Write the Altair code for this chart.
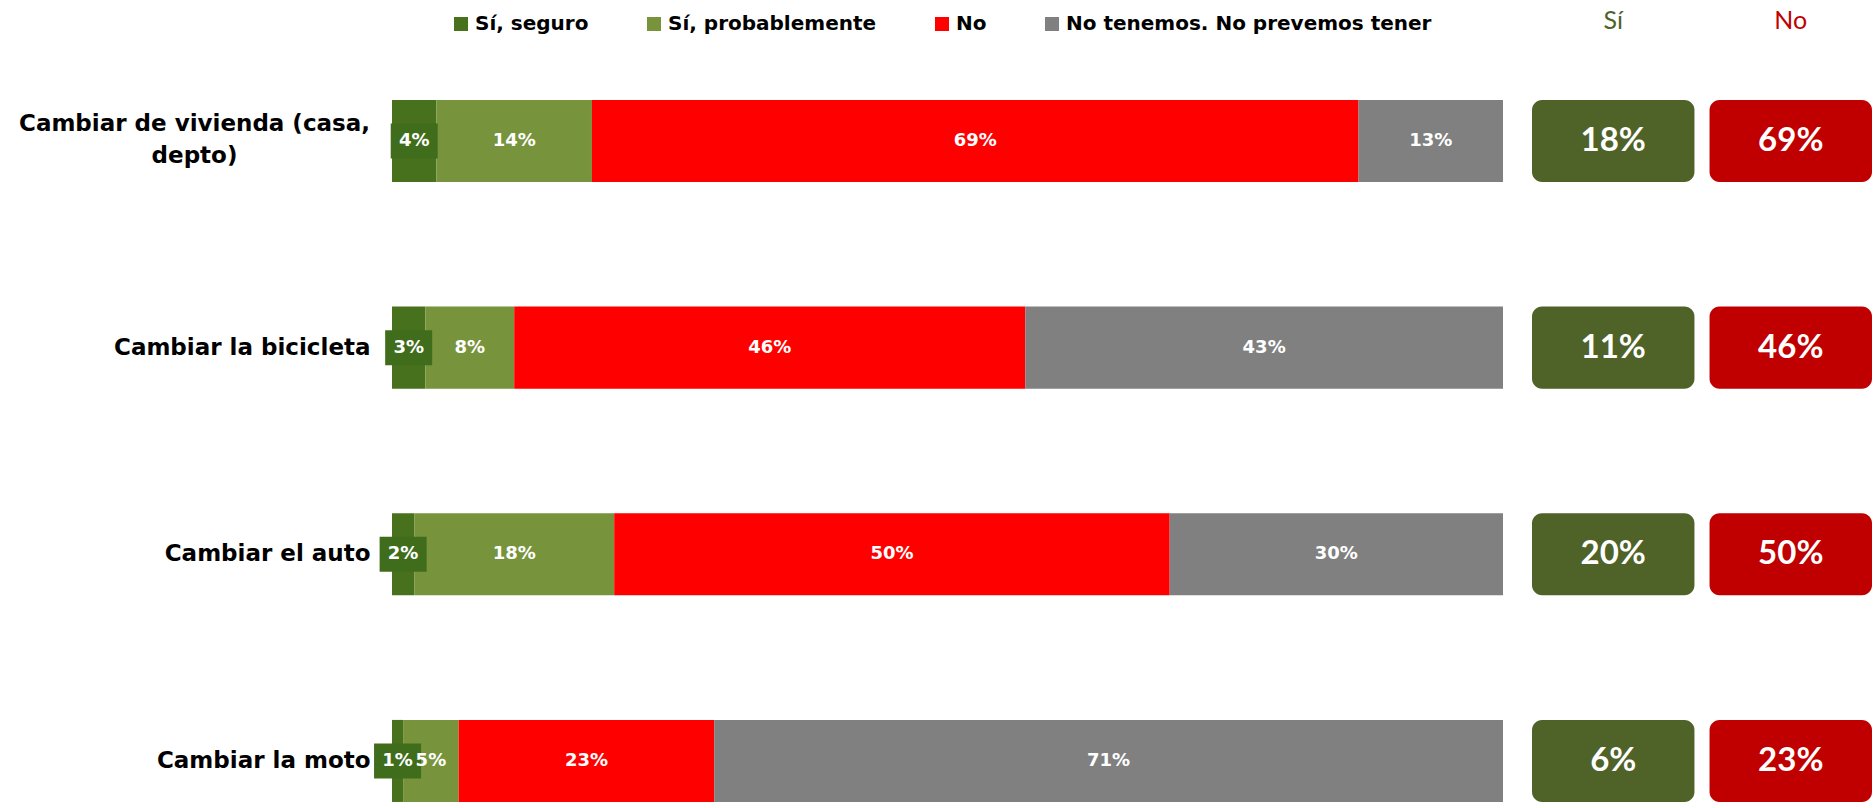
import altair as alt
import pandas as pd

# Survey items (rows) and the answer categories (stacked segments)
categories = [
    "Cambiar de vivienda (casa,\ndepto)",
    "Cambiar la bicicleta",
    "Cambiar el auto",
    "Cambiar la moto",
]
responses = ["Sí, seguro", "Sí, probablemente", "No", "No tenemos. No prevemos tener"]

# Percentages per row, one list per answer
si_seguro = [4, 3, 2, 1]
si_probablemente = [14, 8, 18, 5]
no = [69, 46, 50, 23]
no_tenemos = [13, 43, 30, 71]

response_colors = ["#48711E", "#77933C", "#FF0000", "#808080"]
summary_columns = ["Sí", "No"]
summary_colors = ["#4F6228", "#C00000"]

# Long table for the stacked bars
series = [si_seguro, si_probablemente, no, no_tenemos]
rows = []
for ci, cat in enumerate(categories):
    start = 0
    for ri, resp in enumerate(responses):
        v = series[ri][ci]
        rows.append({
            "category": cat,
            "response": resp,
            "order": ri,
            "value": v,
            "mid": start + v / 2,
        })
        start += v
bars_df = pd.DataFrame(rows)

# Summary boxes: total "Sí" (seguro + probablemente) and "No"
summary_rows = []
for ci, cat in enumerate(categories):
    summary_rows.append({"category": cat, "column": "Sí",
                         "value": si_seguro[ci] + si_probablemente[ci]})
    summary_rows.append({"category": cat, "column": "No", "value": no[ci]})
summary_df = pd.DataFrame(summary_rows)
header_df = pd.DataFrame({"column": summary_columns})

y_scale = alt.Scale(paddingInner=0.603, paddingOuter=0.2468, align=0.98)
PLOT_H = 804

# Two-line labels are centred as a block; single-line labels are right-aligned
multi = "length(split(datum.label, '\\n')) > 1"
y_enc = alt.Y(
    "category:N",
    sort=categories,
    scale=y_scale,
    title=None,
    axis=alt.Axis(
        labelExpr="split(datum.label, '\\n')",
        labelFont="DejaVu Sans",
        labelFontWeight="bold",
        labelFontSize=23,
        labelColor="#000000",
        labelLineHeight=32,
        labelPadding=alt.ExprRef(f"{multi} ? 198 : 22"),
        labelAlign=alt.ExprRef(f"{multi} ? 'center' : 'right'"),
        labelOffset=alt.ExprRef(f"{multi} ? -17 : 0"),
        labelLimit=600,
        domain=False,
        ticks=False,
    ),
)

base = alt.Chart(bars_df)

bars = base.mark_bar().encode(
    x=alt.X("value:Q", stack="zero", scale=alt.Scale(domain=[0, 100]), axis=None),
    y=y_enc,
    color=alt.Color(
        "response:N",
        scale=alt.Scale(domain=responses, range=response_colors),
        legend=alt.Legend(
            title=None,
            orient="none",
            direction="horizontal",
            legendX=59,
            legendY=14,
            symbolType="square",
            symbolSize=196,
            symbolStrokeWidth=0,
            labelFont="DejaVu Sans",
            labelFontWeight="bold",
            labelFontSize=20,
            labelColor="#000000",
            labelOffset=4,
            columnPadding=55,
            padding=0,
            labelLimit=600,
        ),
    ),
    order=alt.Order("order:Q"),
)

# Dark label background for the small "Sí, seguro" segment
seguro_box = base.transform_filter(alt.datum.order == 0).mark_point(
    shape="M-1.343,-1H1.343V1H-1.343Z",
    size=1225,
    filled=True,
    opacity=1,
    color="#406D1B",
).encode(x=alt.X("mid:Q"), y=alt.Y("category:N", sort=categories))

seg_text = base.transform_calculate(
    label="datum.value + '%'"
).mark_text(
    font="DejaVu Sans", fontWeight="bold", fontSize=18, color="white",
    align="center", baseline="middle",
).encode(
    x=alt.X("mid:Q"),
    y=alt.Y("category:N", sort=categories),
    text="label:N",
)

bar_chart = alt.layer(bars, seguro_box, seg_text).properties(width=1111, height=PLOT_H)

# Right-hand summary panel
x_sum = alt.X(
    "column:N",
    sort=summary_columns,
    scale=alt.Scale(paddingInner=0.085, paddingOuter=0),
    axis=None,
)
sum_color = alt.Color(
    "column:N",
    scale=alt.Scale(domain=summary_columns, range=summary_colors),
    legend=None,
)
sum_base = alt.Chart(summary_df)
boxes = sum_base.mark_bar(cornerRadius=10).encode(
    x=x_sum,
    y=alt.Y("category:N", sort=categories, scale=y_scale, axis=None),
    color=sum_color,
)
box_text = sum_base.transform_calculate(
    label="datum.value + '%'"
).mark_text(
    font="Lato", fontWeight="bold", fontSize=33, color="white",
    align="center", baseline="middle",
).encode(
    x=x_sum,
    y=alt.Y("category:N", sort=categories),
    text="label:N",
)
headers = alt.Chart(header_df).mark_text(
    font="Lato", fontSize=25, align="center", baseline="middle",
).encode(
    x=x_sum,
    y=alt.value(21),
    text="column:N",
    color=sum_color,
)
summary_chart = alt.layer(boxes, box_text, headers).properties(width=340, height=PLOT_H)

chart = (
    alt.hconcat(bar_chart, summary_chart, spacing=29)
    .resolve_scale(color="independent", y="independent")
    .properties(padding={"left": 18, "top": 0, "right": 0, "bottom": 0})
    .configure_view(stroke=None)
)

chart.save("out.html", embed_options={"renderer": "svg", "actions": False})
